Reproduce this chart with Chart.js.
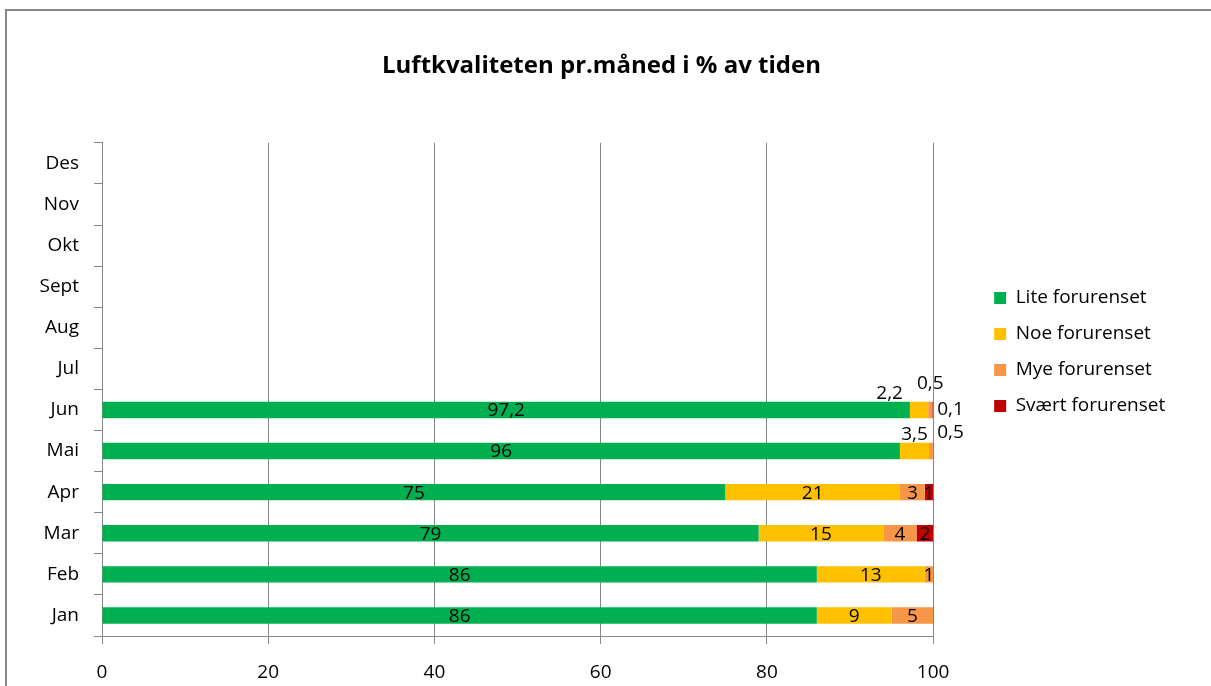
<!DOCTYPE html>
<html>
<head>
<meta charset="utf-8">
<script src="https://cdn.jsdelivr.net/npm/chart.js@4.4.1/dist/chart.umd.min.js"></script>
<style>
  html, body { margin: 0; padding: 0; background: #fff; }
  #wrap { width: 1211px; height: 686px; }
</style>
</head>
<body>
<div id="wrap"><canvas id="chartCanvas" width="1211" height="686"></canvas></div>
<script>
const months = ['Jan', 'Feb', 'Mar', 'Apr', 'Mai', 'Jun', 'Jul', 'Aug', 'Sept', 'Okt', 'Nov', 'Des'];
const seriesNames = ['Lite forurenset', 'Noe forurenset', 'Mye forurenset', 'Svært forurenset'];
const lite = [86, 86, 79, 75, 96, 97.2, null, null, null, null, null, null];
const noe = [9, 13, 15, 21, 3.5, 2.2, null, null, null, null, null, null];
const mye = [5, 1, 4, 3, 0.5, 0.5, null, null, null, null, null, null];
const svaert = [null, null, 2, 1, null, 0.1, null, null, null, null, null, null];
const xTicks = [0, 20, 40, 60, 80, 100];

const colors = ['#00B050', '#FFC000', '#F79646', '#C00000'];
const FONT = "'Open Sans', sans-serif";
const gridGray = '#878787';

function fmt(v) {
    return String(v).replace('.', ',');
}

// outer frame like the spreadsheet chart object
const framePlugin = {
    id: 'frame',
    beforeDraw(chart) {
        const ctx = chart.ctx;
        ctx.save();
        ctx.fillStyle = '#fff';
        ctx.fillRect(0, 0, chart.width, chart.height);
        ctx.strokeStyle = '#878787';
        ctx.lineWidth = 2;
        ctx.strokeRect(6, 10, chart.width + 20, chart.height + 20);
        ctx.restore();
    }
};

// value labels: inside the segment when it fits, otherwise placed near the bar end
const segmentLabels = {
    id: 'segmentLabels',
    afterDatasetsDraw(chart) {
        const ctx = chart.ctx;
        ctx.save();
        ctx.font = '19px ' + FONT;
        ctx.fillStyle = '#000';
        ctx.textBaseline = 'middle';
        months.forEach((m, i) => {
            const overflow = [];
            chart.data.datasets.forEach((ds, d) => {
                const v = ds.data[i];
                if (v == null || v === 0) return;
                const bar = chart.getDatasetMeta(d).data[i];
                const text = fmt(v);
                const w = ctx.measureText(text).width;
                const segW = Math.abs(bar.x - bar.base);
                if (segW >= w + 8 || Number.isInteger(v)) {
                    ctx.textAlign = 'center';
                    ctx.fillText(text, (bar.x + bar.base) / 2, bar.y + 1);
                } else {
                    overflow.push({ text, w, bar });
                }
            });
            if (!overflow.length) return;

            const n = overflow.length;
            const last = overflow[n - 1];
            const end = last.bar.x;
            const y = last.bar.y;
            const lastY = n > 2 ? y : y - 18;
            ctx.textAlign = 'left';
            ctx.fillText(last.text, end + 4, lastY);
            let limit = n > 2 ? Infinity : end + 4 - 6;
            for (let k = n - 2; k >= 0; k--) {
                const o = overflow[k];
                const cx = Math.min((o.bar.x + o.bar.base) / 2, limit - o.w / 2);
                const yy = (k === n - 2 && n > 2) ? y - 26 : y - 16;
                ctx.textAlign = 'center';
                ctx.fillText(o.text, cx, yy);
                limit = cx - o.w / 2 - 14;
            }
        });
        ctx.restore();
    }
};

const datasets = [lite, noe, mye, svaert].map((values, idx) => ({
    label: seriesNames[idx],
    data: values,
    backgroundColor: colors[idx],
    borderWidth: 0,
    barPercentage: 0.4,
    categoryPercentage: 1.0
}));

new Chart(document.getElementById('chartCanvas'), {
    type: 'bar',
    data: { labels: months, datasets: datasets },
    options: {
        responsive: false,
        animation: false,
        indexAxis: 'y',
        layout: { padding: { top: 18, left: 38, right: 46, bottom: 0 } },
        scales: {
            x: {
                stacked: true,
                min: 0,
                max: 100,
                afterBuildTicks(scale) {
                    scale.ticks = xTicks.map(v => ({ value: v }));
                },
                afterFit(scale) { scale.height = 50; },
                grid: { color: gridGray, tickLength: 8, drawTicks: true },
                border: { color: gridGray },
                ticks: {
                    color: '#000',
                    padding: 17,
                    font: { family: FONT, size: 19 }
                }
            },
            y: {
                stacked: true,
                reverse: true,
                afterFit(scale) { scale.width = 64; },
                grid: { drawOnChartArea: false, offset: true, color: gridGray, tickLength: 8 },
                border: { color: gridGray },
                ticks: {
                    color: '#000',
                    padding: 15,
                    font: { family: FONT, size: 19 }
                }
            },
            gap: {
                type: 'linear',
                position: 'right',
                display: true,
                afterFit(scale) { scale.width = 44; },
                grid: { display: false },
                border: { display: false },
                ticks: { display: false }
            }
        },
        plugins: {
            title: {
                display: true,
                text: 'Luftkvaliteten pr.måned i % av tiden',
                color: '#000',
                font: { family: FONT, size: 24, weight: 'bold' },
                padding: { top: 34, bottom: 62 }
            },
            legend: {
                position: 'right',
                labels: {
                    color: '#000',
                    boxWidth: 12,
                    boxHeight: 12,
                    padding: 17,
                    font: { family: FONT, size: 19 }
                }
            },
            tooltip: { enabled: false }
        }
    },
    plugins: [framePlugin, segmentLabels]
});
</script>
</body>
</html>
